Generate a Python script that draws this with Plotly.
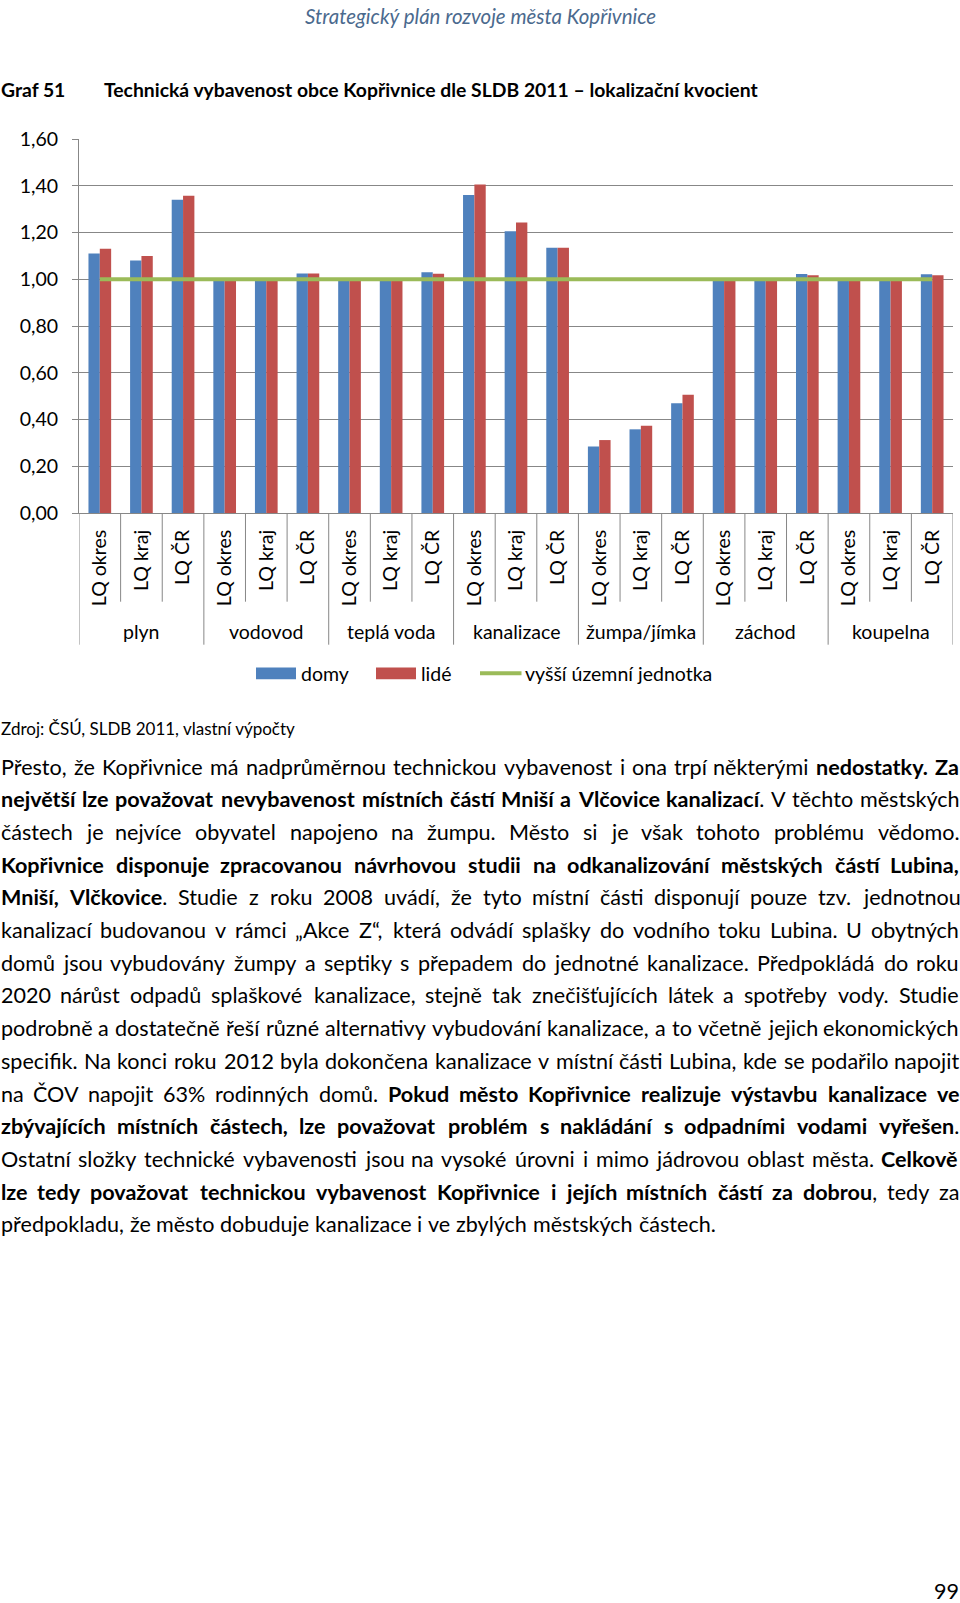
import os, glob, struct
import plotly.graph_objects as go

# ---------------- data ----------------
groups = ["plyn", "vodovod", "teplá voda", "kanalizace", "žumpa/jímka", "záchod", "koupelna"]
subcats = ["LQ okres", "LQ kraj", "LQ ČR"]
domy = [1.11, 1.08, 1.34,
        1.00, 1.00, 1.025,
        1.00, 1.00, 1.03,
        1.36, 1.205, 1.135,
        0.285, 0.358, 0.47,
        1.00, 1.00, 1.022,
        1.00, 1.00, 1.021]
lide = [1.13, 1.10, 1.357,
        1.00, 1.00, 1.025,
        1.00, 1.00, 1.024,
        1.405, 1.243, 1.135,
        0.312, 0.373, 0.506,
        1.00, 1.00, 1.017,
        1.00, 1.00, 1.017]
vyssi = [1.00, 1.00, 1.00, 1.00, 1.00, 1.00, 1.00,
         1.00, 1.00, 1.00, 1.00, 1.00, 1.00, 1.00,
         1.00, 1.00, 1.00, 1.00, 1.00, 1.00, 1.00]
series_names = ["domy", "lidé", "vyšší územní jednotka"]
y_ticks = [0.0, 0.2, 0.4, 0.6, 0.8, 1.0, 1.2, 1.4, 1.6]

header_text = "Strategický plán rozvoje města Kopřivnice"
graf_label = "Graf 51"
title_text = "Technická vybavenost obce Kopřivnice dle SLDB 2011 – lokalizační kvocient"
source_text = "Zdroj: ČSÚ, SLDB 2011, vlastní výpočty"
page_no = "99"
body_lines = [
    "Přesto, že Kopřivnice má nadprůměrnou technickou vybavenost i ona trpí některými **nedostatky. Za**",
    "**největší lze považovat nevybavenost místních částí Mniší a Vlčovice kanalizací**. V těchto městských",
    "částech je nejvíce obyvatel napojeno na žumpu. Město si je však tohoto problému vědomo.",
    "**Kopřivnice disponuje zpracovanou návrhovou studii na odkanalizování městských částí Lubina,**",
    "**Mniší, Vlčkovice**. Studie z roku 2008 uvádí, že tyto místní části disponují pouze tzv. jednotnou",
    "kanalizací budovanou v rámci „Akce Z“, která odvádí splašky do vodního toku Lubina. U obytných",
    "domů jsou vybudovány žumpy a septiky s přepadem do jednotné kanalizace. Předpokládá do roku",
    "2020 nárůst odpadů splaškové kanalizace, stejně tak znečišťujících látek a spotřeby vody. Studie",
    "podrobně a dostatečně řeší různé alternativy vybudování kanalizace, a to včetně jejich ekonomických",
    "specifik. Na konci roku 2012 byla dokončena kanalizace v místní části Lubina, kde se podařilo napojit",
    "na ČOV napojit 63% rodinných domů. **Pokud město Kopřivnice realizuje výstavbu kanalizace ve**",
    "**zbývajících místních částech, lze považovat problém s nakládání s odpadními vodami vyřešen**.",
    "Ostatní složky technické vybavenosti jsou na vysoké úrovni i mimo jádrovou oblast města. **Celkově**",
    "**lze tedy považovat technickou vybavenost Kopřivnice i jejích místních částí za dobrou**, tedy za",
    "předpokladu, že město dobuduje kanalizace i ve zbylých městských částech.",
]

# ---------------- font metrics (for sizing / justification) ----------------
def find_font(names):
    roots = ["/usr/share/fonts", "/usr/local/share/fonts",
             os.path.expanduser("~/.fonts"), os.path.expanduser("~/.local/share/fonts")]
    for root in roots:
        for n in names:
            hits = glob.glob(os.path.join(root, "**", n), recursive=True)
            if hits:
                return hits[0]
    return None


def load_metrics(path):
    try:
        data = open(path, "rb").read()
        if data[:4] == b"ttcf":
            return None
        num = struct.unpack(">H", data[4:6])[0]
        tables = {}
        for i in range(num):
            tag, cs, off, ln = struct.unpack(">4sIII", data[12 + 16 * i:28 + 16 * i])
            tables[tag.decode("latin1")] = off
        upem = struct.unpack(">H", data[tables["head"] + 18:tables["head"] + 20])[0]
        nhm = struct.unpack(">H", data[tables["hhea"] + 34:tables["hhea"] + 36])[0]
        ho = tables["hmtx"]
        adv = [struct.unpack(">H", data[ho + 4 * i:ho + 4 * i + 2])[0] for i in range(nhm)]
        co = tables["cmap"]
        _, n = struct.unpack(">HH", data[co:co + 4])
        best = None
        for i in range(n):
            pid, eid, so = struct.unpack(">HHI", data[co + 4 + 8 * i:co + 12 + 8 * i])
            fmt = struct.unpack(">H", data[co + so:co + so + 2])[0]
            if fmt == 12 and pid in (0, 3):
                best = (12, co + so)
            elif fmt == 4 and pid in (0, 3) and best is None:
                best = (4, co + so)
        cmap = {}
        fmt, o = best
        if fmt == 4:
            segx2 = struct.unpack(">H", data[o + 6:o + 8])[0]
            seg = segx2 // 2
            ends = struct.unpack(">%dH" % seg, data[o + 14:o + 14 + segx2])
            starts = struct.unpack(">%dH" % seg, data[o + 16 + segx2:o + 16 + 2 * segx2])
            deltas = struct.unpack(">%dh" % seg, data[o + 16 + 2 * segx2:o + 16 + 3 * segx2])
            rp = o + 16 + 3 * segx2
            roffs = struct.unpack(">%dH" % seg, data[rp:rp + segx2])
            for s in range(seg):
                for c in range(starts[s], ends[s] + 1):
                    if c == 0xFFFF:
                        continue
                    if roffs[s] == 0:
                        g = (c + deltas[s]) & 0xFFFF
                    else:
                        addr = rp + 2 * s + roffs[s] + 2 * (c - starts[s])
                        g = struct.unpack(">H", data[addr:addr + 2])[0]
                        if g:
                            g = (g + deltas[s]) & 0xFFFF
                    cmap[c] = g
        else:
            ng = struct.unpack(">I", data[o + 12:o + 16])[0]
            for k in range(ng):
                sc, ec, sg = struct.unpack(">III", data[o + 16 + 12 * k:o + 28 + 12 * k])
                for c in range(sc, min(ec, 0x3000) + 1):
                    cmap[c] = sg + c - sc

        def width(text, size=1.0):
            tot = 0
            for ch in text:
                g = cmap.get(ord(ch), 0)
                tot += adv[min(g, nhm - 1)]
            return tot * size / upem
        return width
    except Exception:
        return None


def fallback_width(text, size=1.0):
    return 0.52 * size * len(text)


p_reg = find_font(["Lato-Regular.ttf", "Lato-Regular.otf"])
p_bold = find_font(["Lato-Bold.ttf", "Lato-Bold.otf"])
p_ital = find_font(["Lato-Italic.ttf", "Lato-Italic.otf"])
W_reg = (load_metrics(p_reg) if p_reg else None) or fallback_width
W_bold = (load_metrics(p_bold) if p_bold else None) or W_reg
W_ital = (load_metrics(p_ital) if p_ital else None) or W_reg

FONT = "Lato, 'Open Sans', sans-serif"

# sizes calibrated to measured text widths (px) in the reference
s_chart = 188.0 / W_reg("vyšší územní jednotka")
s_title = 659.0 / W_bold(title_text)
s_src = 296.0 / W_reg(source_text)
s_head = 355.0 / W_ital(header_text)
s_body = 715.0 / W_reg(body_lines[-1].replace("**", ""))

# ---------------- geometry ----------------
W, H = 960, 1603
PL, PR = 79.0, 953.0
PT, PB = 139.3, 513.3
PW, PH = PR - PL, PB - PT


def xp(px):
    return (px - PL) / PW


def yp(py):
    return (PB - py) / PH


GRID = "#878787"
BLUE, RED, GREEN = "#4F81BD", "#C0504D", "#9BBB59"

xs = list(range(len(groups) * len(subcats)))
ticktext = [subcats[i % len(subcats)] for i in xs]

fig = go.Figure()
fig.add_trace(go.Bar(x=xs, y=domy, name=series_names[0], marker_color=BLUE, marker_line_width=0))
fig.add_trace(go.Bar(x=xs, y=lide, name=series_names[1], marker_color=RED, marker_line_width=0))
fig.add_trace(go.Scatter(x=xs, y=vyssi, name=series_names[2], mode="lines",
                         line=dict(color=GREEN, width=4)))

shapes = []
annotations = []

# separators under the x axis
nsub = len(subcats)
for k in range(len(xs) + 1):
    xb = k - 0.5
    long_ = (k % nsub == 0)
    shapes.append(dict(type="line", xref="x", yref="paper", x0=xb, x1=xb,
                       y0=0, y1=yp(645 if long_ else 602),
                       line=dict(color=GRID, width=1)))

# group labels
for g, name in enumerate(groups):
    annotations.append(dict(x=g * nsub + (nsub - 1) / 2, xref="x", y=yp(631.7), yref="paper",
                            text=name, showarrow=False, xanchor="center", yanchor="middle",
                            font=dict(family=FONT, size=s_chart, color="#000")))

# manual legend
leg_y0, leg_y1 = 667.7, 679.5
shapes.append(dict(type="rect", xref="paper", yref="paper", x0=xp(256), x1=xp(296),
                   y0=yp(leg_y1), y1=yp(leg_y0), fillcolor=BLUE, line=dict(width=0)))
shapes.append(dict(type="rect", xref="paper", yref="paper", x0=xp(376), x1=xp(416),
                   y0=yp(leg_y1), y1=yp(leg_y0), fillcolor=RED, line=dict(width=0)))
shapes.append(dict(type="line", xref="paper", yref="paper", x0=xp(480), x1=xp(521.5),
                   y0=yp(673.5), y1=yp(673.5), line=dict(color=GREEN, width=4)))
for lx, txt in [(300.5, series_names[0]), (421, series_names[1]), (525, series_names[2])]:
    annotations.append(dict(x=xp(lx), xref="paper", y=yp(673.5), yref="paper", text=txt,
                            showarrow=False, xanchor="left", yanchor="middle",
                            borderpad=0, borderwidth=0,
                            font=dict(family=FONT, size=s_chart, color="#000")))


def text_ann(px, py, text, size, anchor="left", color="#000", italic=False):
    return dict(x=xp(px), xref="paper", y=yp(py), yref="paper", text=text,
                showarrow=False, xanchor=anchor, yanchor="middle", borderpad=0, borderwidth=0,
                font=dict(family=FONT, size=size, color=color,
                          style="italic" if italic else "normal"))


# page header, titles, source, page number
annotations.append(text_ann(480, 16.4, header_text, s_head, anchor="center", color="#4B6A8E", italic=True))
annotations.append(text_ann(0.5, 90, "<b>%s</b>" % graf_label, s_title))
annotations.append(text_ann(104, 90, "<b>%s</b>" % title_text, s_title))
annotations.append(text_ann(0.5, 729, source_text, s_src))
annotations.append(text_ann(959, 1591, page_no, s_body, anchor="right"))


# justified body text, word by word
def parse_words(line):
    parts = line.split("**")
    runs = [(p, i % 2 == 1) for i, p in enumerate(parts) if p]
    words, cur = [], []
    for text, bold in runs:
        pieces = text.split(" ")
        for j, piece in enumerate(pieces):
            if j > 0 and cur:
                words.append(cur)
                cur = []
            if piece:
                cur.append((piece, bold))
    if cur:
        words.append(cur)
    return words


BODY_L, BODY_R = 0.5, 959.5
line_y0, line_step = 766.8, 32.71
for i, line in enumerate(body_lines):
    words = parse_words(line)
    widths = [sum((W_bold if b else W_reg)(t, s_body) for t, b in w) for w in words]
    total = sum(widths)
    last = (i == len(body_lines) - 1)
    if last or len(words) < 2:
        gap = W_reg(" ", s_body)
    else:
        gap = max(2.0, (BODY_R - BODY_L - total) / (len(words) - 1))
    x = BODY_L
    ly = line_y0 + i * line_step
    for w, wd in zip(words, widths):
        html = "".join("<b>%s</b>" % t if b else t for t, b in w)
        annotations.append(text_ann(x, ly, html, s_body))
        x += wd + gap

fig.update_layout(
    width=W, height=H, autosize=False,
    margin=dict(l=PL, r=W - PR, t=PT, b=H - PB, pad=0),
    paper_bgcolor="white", plot_bgcolor="white",
    separators=", ",
    barmode="group", bargap=0.455, bargroupgap=0.0,
    showlegend=False,
    font=dict(family=FONT, size=s_chart, color="#000"),
    shapes=shapes, annotations=annotations,
    xaxis=dict(range=[-0.5, len(xs) - 0.5], tickmode="array", tickvals=xs, ticktext=ticktext,
               tickangle=-90, showgrid=False, zeroline=False, showline=True, linecolor=GRID,
               linewidth=1, ticks="", ticklabelstandoff=8,
               tickfont=dict(family=FONT, size=s_chart, color="#000"), fixedrange=True),
    yaxis=dict(range=[0, 1.6], tickmode="array", tickvals=y_ticks, tickformat=".2f",
               showgrid=True, gridcolor=GRID, gridwidth=1, zeroline=False,
               showline=True, linecolor=GRID, linewidth=1, ticks="outside", ticklen=6,
               tickcolor=GRID, ticklabelstandoff=10,
               tickfont=dict(family=FONT, size=s_chart, color="#000"), fixedrange=True),
)

fig.write_html("out.html")
